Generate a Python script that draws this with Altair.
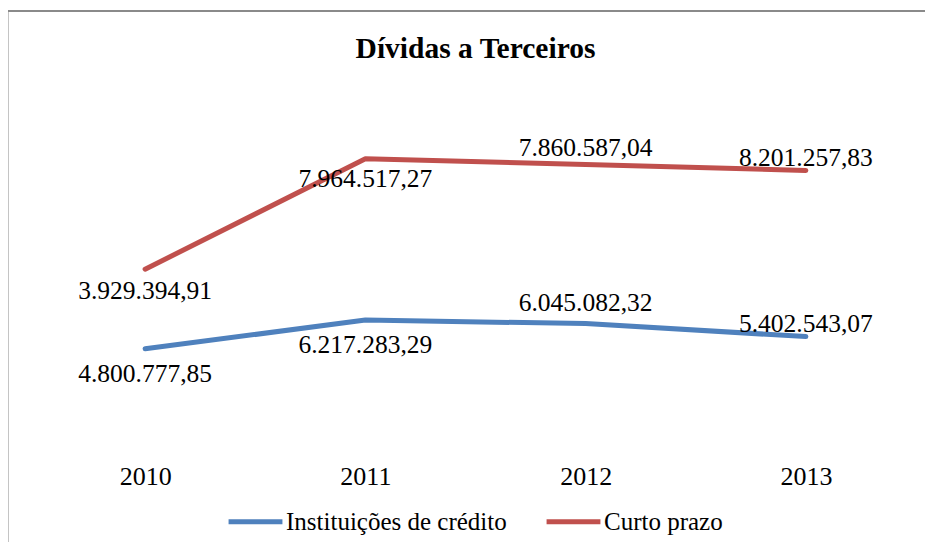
import altair as alt
import pandas as pd

anos = ["2010", "2011", "2012", "2013"]
series = ["Instituições de crédito", "Curto prazo"]
inst_credito = [4800777.85, 6217283.29, 6045082.32, 5402543.07]
curto_prazo = [3929394.91, 7964517.27, 7860587.04, 8201257.83]
cores = ["#4F81BD", "#C0504D"]

FONT = "Liberation Serif"


def fmt_pt(v):
    s = f"{v:,.2f}"
    return s.replace(",", "X").replace(".", ",").replace("X", ".")


rows = []
for ordem, (nome, vals) in enumerate(zip(series, [inst_credito, curto_prazo])):
    for ano, v in zip(anos, vals):
        rows.append({"ano": ano, "serie": nome, "ordem": ordem, "valor": v, "rotulo": fmt_pt(v)})
df = pd.DataFrame(rows)

base = alt.Chart(df).transform_window(
    acum="sum(valor)", groupby=["ano"], sort=[alt.SortField("ordem")], frame=[None, 0]
)

x_scale = alt.Scale(type="point", padding=0.5)
y_scale = alt.Scale(domain=[0, 16000000])

x_enc = alt.X(
    "ano:N",
    scale=x_scale,
    axis=alt.Axis(
        title=None, labelAngle=0, domain=False, ticks=False, tickSize=0, grid=False,
        labelFont=FONT, labelFontSize=26, labelColor="black", labelPadding=17,
    ),
)
y_enc = alt.Y("acum:Q", scale=y_scale, axis=None)

linhas = base.mark_line(strokeWidth=5, strokeCap="round", strokeJoin="round").encode(
    x=x_enc,
    y=y_enc,
    color=alt.Color(
        "serie:N",
        scale=alt.Scale(domain=series, range=cores),
        sort=series,
        legend=alt.Legend(
            title=None, orient="none", legendX=191, legendY=370, direction="horizontal",
            symbolType="stroke", symbolSize=2900, symbolStrokeWidth=5,
            labelFont=FONT, labelFontSize=25, labelColor="black", labelLimit=500,
            labelOffset=1, columnPadding=29,
        ),
    ),
    detail="serie:N",
)

# label offsets (pixels) per series/year
desloc = {
    ("Curto prazo", "2010"): 22, ("Curto prazo", "2011"): 20,
    ("Curto prazo", "2012"): -16, ("Curto prazo", "2013"): -13,
    ("Instituições de crédito", "2010"): 25, ("Instituições de crédito", "2011"): 25,
    ("Instituições de crédito", "2012"): -21, ("Instituições de crédito", "2013"): -13,
}
textos = []
for (serie, ano), dy in desloc.items():
    textos.append(
        base.transform_filter(
            (alt.datum.serie == serie) & (alt.datum.ano == ano)
        ).mark_text(font=FONT, fontSize=25.5, color="black", dy=dy, baseline="middle").encode(
            x=alt.X("ano:N", scale=x_scale),
            y=alt.Y("acum:Q", scale=y_scale),
            text="rotulo:N",
        )
    )

moldura_topo = alt.Chart(alt.Data(values=[{}])).mark_rule(
    stroke="#8a8a8a", strokeWidth=2
).encode(x=alt.value(-27.5), x2=alt.value(895), y=alt.value(-111))
moldura_esq = alt.Chart(alt.Data(values=[{}])).mark_rule(
    stroke="#8a8a8a", strokeWidth=2
).encode(x=alt.value(-27.5), y=alt.value(-112), y2=alt.value(420))

chart = alt.layer(moldura_topo, moldura_esq, linhas, *textos).properties(
    width=881,
    height=324,
    title=alt.TitleParams(
        "Dívidas a Terceiros", font=FONT, fontSize=29.5, fontWeight="bold",
        color="black", anchor="middle", offset=0, baseline="alphabetic", dy=78,
    ),
    autosize=alt.AutoSizeParams(type="none"),
    padding={"left": 27, "top": 114, "right": 9, "bottom": 99},
).configure(background="white", font=FONT).configure_view(
    stroke="transparent", strokeWidth=0
).configure_text(font=FONT)

chart.save("out.html", embed_options={"renderer": "svg", "actions": False})
